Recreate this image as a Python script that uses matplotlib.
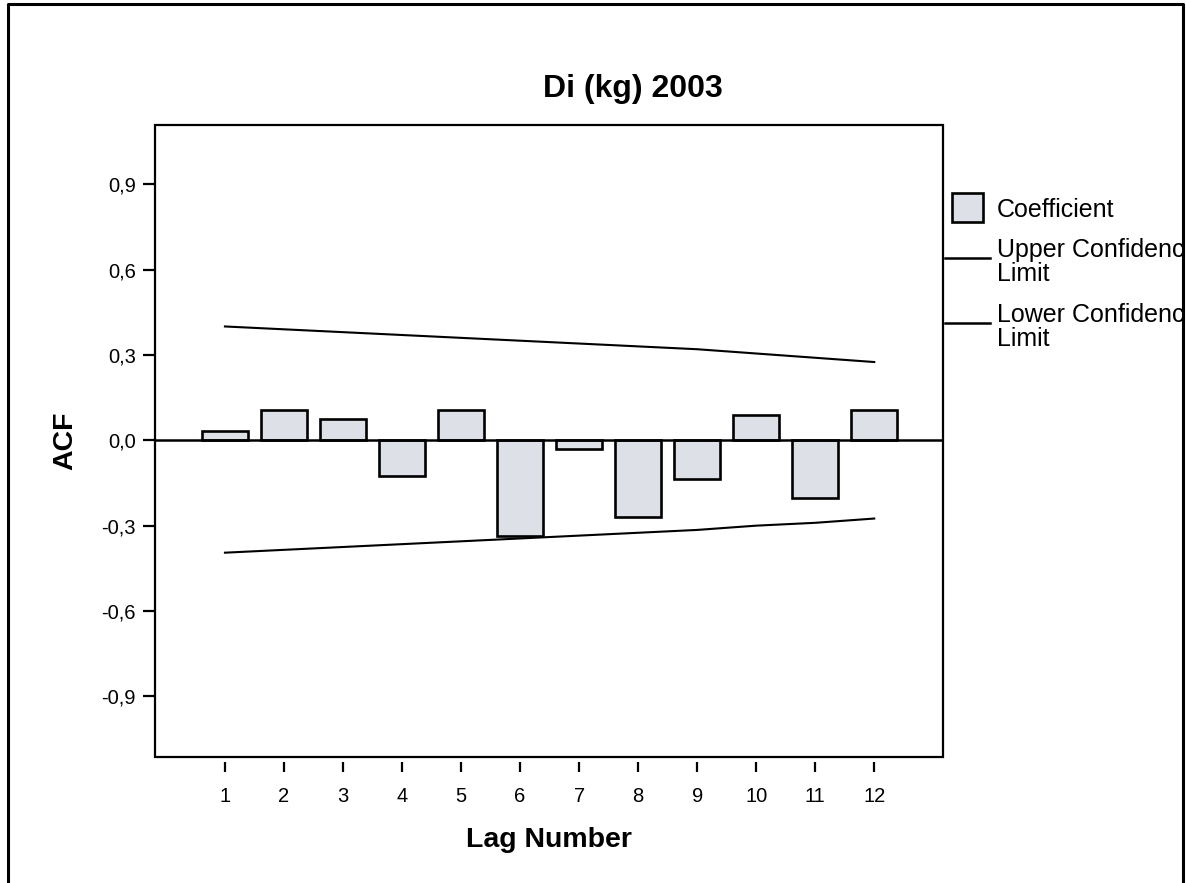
import matplotlib
matplotlib.use('Agg')
import matplotlib.pyplot as plt
from matplotlib.lines import Line2D
from matplotlib.patches import Rectangle
from matplotlib.transforms import Bbox

plt.rcParams['font.family'] = ['Liberation Sans', 'DejaVu Sans']

# data
lags = [1, 2, 3, 4, 5, 6, 7, 8, 9, 10, 11, 12]
acf = [0.032, 0.105, 0.076, -0.127, 0.108, -0.338, -0.03, -0.271, -0.136, 0.088, -0.204, 0.107]
upper = [0.40, 0.39, 0.38, 0.37, 0.36, 0.35, 0.34, 0.33, 0.32, 0.305, 0.29, 0.275]
lower = [-0.395, -0.385, -0.375, -0.365, -0.355, -0.345, -0.335, -0.325, -0.315, -0.30, -0.29, -0.275]
yticks = [-0.9, -0.6, -0.3, 0.0, 0.3, 0.6, 0.9]
ytick_labels = ['-0,9', '-0,6', '-0,3', '0,0', '0,3', '0,6', '0,9']

W, H = 1186, 883
fig = plt.figure(figsize=(W / 100, H / 100), dpi=100)

def fx(px):
    return px / W

def fy(py):
    return 1 - py / H

ax = fig.add_axes([fx(155), fy(757), fx(943) - fx(155), fy(125) - fy(757)])

ax.bar(lags, acf, width=0.78, color='#dde0e7', edgecolor='black', linewidth=1.9, zorder=2)
ax.axhline(0, color='black', linewidth=1.8, zorder=3)
ax.plot(lags, upper, color='black', linewidth=1.5, zorder=3)
ax.plot(lags, lower, color='black', linewidth=1.5, zorder=3)

ax.set_xlim(-0.185, 13.165)
ax.set_ylim(-1.113, 1.108)
ax.set_xticks(lags)
ax.set_xticklabels([str(l) for l in lags])
ax.set_yticks(yticks)
ax.set_yticklabels(ytick_labels)

# frame drawn as a patch so the bottom ticks can sit a little below it
for s in ax.spines.values():
    s.set_visible(False)
ax.spines['bottom'].set_visible(True)
ax.spines['bottom'].set_color('none')
ax.spines['bottom'].set_position(('outward', 3.6))
ax.add_patch(Rectangle((0, 0), 1, 1, transform=ax.transAxes, fill=False,
                       edgecolor='black', linewidth=1.6, clip_on=False, zorder=4))

ax.tick_params(axis='y', direction='out', length=8.6, width=1.6, pad=5, labelsize=14.5)
ax.tick_params(axis='x', direction='out', length=7.2, width=1.6, pad=11, labelsize=14.5)

ax.set_xlabel('Lag Number', fontsize=20.5, fontweight='bold')
ax.xaxis.set_label_coords(0.5, (757 - 840) / 632)
ax.xaxis.label.set_va('center')
ax.set_ylabel('ACF', fontsize=20.5, fontweight='bold')
ax.yaxis.set_label_coords((65 - 155) / 788, 0.5)
ax.yaxis.label.set_va('center')

fig.text(fx(633), fy(89), 'Di (kg) 2003', fontsize=23, fontweight='bold',
         ha='center', va='center')

# legend drawn by hand, clipped by the outer frame like the original
clip = Bbox.from_extents(0, 0, 1182, H)
fig.patches.append(Rectangle((fx(952), fy(222)), fx(983) - fx(952), fy(193) - fy(222),
                             transform=fig.transFigure, facecolor='#dde0e7',
                             edgecolor='black', linewidth=1.9))
fig.lines.append(Line2D([fx(945), fx(990)], [fy(258), fy(258)],
                        transform=fig.transFigure, color='black', linewidth=1.8))
fig.lines.append(Line2D([fx(945), fx(990)], [fy(323), fy(323)],
                        transform=fig.transFigure, color='black', linewidth=1.8))
items = [('Coefficient', 210), ('Upper Confidence\nLimit', 262), ('Lower Confidence\nLimit', 327)]
for txt, py in items:
    t = fig.text(fx(997), fy(py), txt, fontsize=18, ha='left', va='center', linespacing=0.95)
    t.set_clip_box(clip)
    t.set_clip_on(True)

# outer border (left, top, right)
fig.lines.append(Line2D([fx(8), fx(8), fx(1183), fx(1183)], [0, fy(4), fy(4), 0],
                        transform=fig.transFigure, color='black', linewidth=2.2))

fig.savefig('out.png', dpi=100)
